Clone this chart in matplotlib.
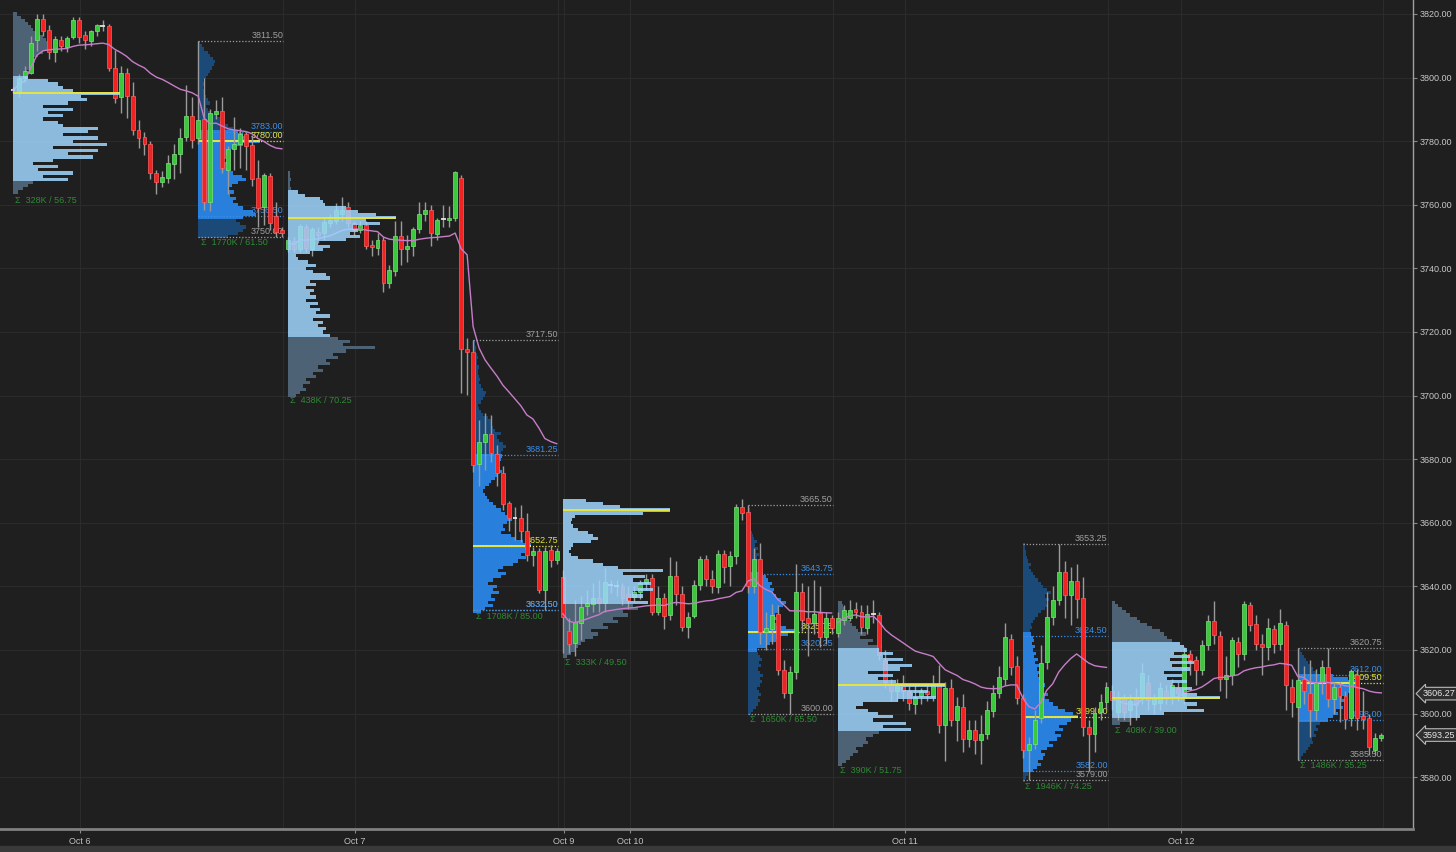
import numpy as np
import matplotlib.pyplot as plt
from matplotlib.patches import Rectangle

# 30-minute ES bars, index 0 = first bar of the Oct 6 overnight session (46 bars per day)
opens = [3796, 3795.5, 3800, 3801.5, 3811.75, 3818.5, 3815, 3808, 3811.75, 3809.75,
         3812.75, 3818, 3813.5, 3811.5, 3814.5, 3816.25, 3816.25, 3803, 3793.75, 3801.5,
         3794.25, 3783.5, 3781.25, 3779.25, 3770, 3767.25, 3768.5, 3772.75, 3776, 3781.25,
         3788, 3781, 3787, 3760.75, 3788.5, 3789.5, 3771, 3777.5, 3779.25, 3782.25,
         3778.75, 3768.5, 3759.25, 3769, 3756.5, 3752,
         3746, 3748.5, 3746, 3753, 3746, 3751.5, 3751, 3754.25, 3755, 3757.25,
         3759.25, 3754.25, 3752, 3753.5, 3747.5, 3746.5, 3749, 3735.5, 3739.25, 3750.25,
         3746, 3747, 3752.25, 3757, 3758.5, 3750.75, 3755.25, 3755.25, 3756, 3768.5,
         3714.5, 3713.75, 3678.5, 3685.5, 3688, 3681.5, 3675.5, 3666.25, 3661.5, 3661.5,
         3657.5, 3650, 3651, 3639, 3651.5, 3648.25,
         3643, 3626, 3622.25, 3628.5, 3633.75, 3634.5, 3636.5, 3634.75, 3640.75, 3640.5,
         3640, 3637.5, 3636.75, 3638.25, 3641, 3642.5, 3632, 3636.5, 3631, 3643.25,
         3637.5, 3627.25, 3630.75, 3640.5, 3648.5, 3642.25, 3639.75, 3650.25, 3646.25, 3649.5,
         3665, 3663.25, 3640, 3648.75, 3625.5, 3626.75, 3631.25, 3613.75, 3606.5, 3613,
         3638.25, 3630, 3628.5, 3631.5, 3624, 3630,
         3625.25, 3629.5, 3630, 3632.75, 3632, 3627, 3631.25, 3631, 3617, 3609,
         3607, 3609, 3607, 3603, 3605.5, 3607, 3605.5, 3609, 3596.5, 3608,
         3598, 3602, 3592, 3594.75, 3591.75, 3593.5, 3600.75, 3606.5, 3610.75, 3623.5,
         3615, 3604.75, 3588.5, 3590.5, 3598.5, 3616.25, 3630.5, 3635.75, 3644.5, 3637.25,
         3641.75, 3636.25, 3595.75, 3593.5, 3600.5, 3603.5,
         3607, 3600.5, 3604.75, 3601, 3605.25, 3605.25, 3609.5, 3603, 3603.25, 3607,
         3605.25, 3608, 3605.25, 3618.75, 3616.75, 3613.75, 3621.5, 3629, 3624.5, 3611,
         3612, 3622.5, 3618.75, 3634.25, 3628.25, 3622, 3621, 3626.5, 3622, 3628,
         3608.5, 3602, 3610.75, 3606.5, 3601.25, 3610, 3614.75, 3604.5, 3608.25, 3605.5,
         3598.5, 3612, 3599.25, 3598.5, 3588.5, 3592.25]
highs = [3797, 3801, 3803.5, 3813, 3820, 3820, 3816.5, 3813, 3813, 3813,
         3819, 3819, 3814.5, 3815, 3817, 3818, 3817, 3808.75, 3803.5, 3803,
         3798.75, 3786.75, 3783, 3780, 3771, 3770.5, 3775.5, 3779, 3784, 3797.75,
         3794, 3811.5, 3800, 3790, 3793, 3794, 3778.5, 3787.75, 3784, 3783,
         3782, 3774, 3770, 3770, 3761, 3753,
         3750, 3750, 3754, 3754, 3753, 3753, 3756, 3757, 3760.5, 3762.5,
         3761, 3755, 3755, 3755, 3749, 3751, 3750, 3741, 3754.75, 3755,
         3750.5, 3753, 3760.75, 3761, 3760, 3756, 3760, 3759.5, 3770.5, 3769.5,
         3718, 3717.5, 3692.25, 3694.5, 3694, 3684.5, 3678, 3667, 3665, 3665.5,
         3663, 3652.5, 3652, 3652.5, 3653, 3652,
         3645, 3630, 3635.75, 3637, 3639, 3641, 3642, 3645.75, 3642, 3642,
         3641, 3640, 3640, 3642, 3644, 3644, 3640, 3638, 3649.25, 3648,
         3640, 3632, 3642, 3649.5, 3650, 3645, 3651.5, 3651.5, 3651, 3666,
         3667.5, 3665.5, 3652, 3653.5, 3632, 3634.5, 3634, 3617, 3615, 3647,
         3641, 3640, 3642, 3640, 3632, 3631,
         3632, 3634, 3635.75, 3635, 3634, 3634, 3635.75, 3632, 3620, 3611,
         3611, 3612, 3609, 3609, 3608, 3609, 3612, 3615.25, 3610, 3611,
         3605.25, 3606, 3598, 3598, 3599.5, 3604, 3609, 3615, 3628.5, 3625,
         3618, 3606, 3592.5, 3601, 3621.5, 3638.25, 3640, 3653.25, 3648, 3646,
         3647, 3643, 3598, 3602, 3606, 3610,
         3609, 3607, 3606, 3606, 3608, 3615.75, 3612, 3606, 3610, 3609,
         3611, 3610, 3621, 3620, 3618, 3623, 3631, 3635.5, 3626, 3618,
         3624, 3624, 3635.5, 3635, 3631, 3625, 3630, 3628, 3633, 3629,
         3611, 3620.75, 3615, 3616.75, 3614, 3617, 3620.5, 3610, 3610, 3607,
         3614, 3614, 3607, 3600, 3594, 3594]
lows = [3795, 3794, 3798.5, 3801, 3808.5, 3813, 3806, 3805, 3808.5, 3808,
        3812, 3811, 3809, 3810, 3813, 3814.5, 3802, 3792, 3789, 3787.25,
        3782, 3777.75, 3775.75, 3768, 3763.25, 3765.5, 3767, 3768, 3770, 3780,
        3778, 3779, 3758.5, 3758, 3787, 3770, 3763.5, 3771, 3771.5, 3771,
        3766, 3753, 3753.5, 3752, 3750, 3750,
        3745, 3745, 3745, 3745, 3744, 3748, 3749, 3753, 3754, 3755,
        3753, 3750.5, 3751, 3746, 3744, 3744.25, 3732.5, 3733.75, 3737.5, 3741,
        3742, 3744, 3751, 3755, 3747, 3749, 3753, 3753, 3755, 3700.75,
        3700.25, 3676, 3671.5, 3676.5, 3679, 3671.5, 3664, 3657.5, 3654.5, 3654,
        3648, 3646.25, 3638, 3632.5, 3646, 3647,
        3619, 3619, 3618, 3623, 3631, 3632, 3632, 3632, 3638, 3637,
        3634, 3633, 3635, 3636, 3639, 3631, 3631, 3626.75, 3629.5, 3634,
        3626, 3623.75, 3630, 3639, 3640, 3638, 3638, 3641, 3640, 3647,
        3661, 3638, 3638, 3622, 3620, 3622, 3612, 3605, 3600, 3611,
        3626, 3618, 3625, 3621, 3622, 3625,
        3624, 3628, 3629, 3630, 3625, 3625, 3628.5, 3617, 3608, 3604,
        3604, 3604, 3601, 3600, 3603, 3604, 3604, 3593.75, 3585, 3596,
        3591.25, 3588, 3589.5, 3587.25, 3584, 3592, 3599, 3605, 3609, 3612,
        3603, 3586, 3579, 3589, 3597, 3614, 3628, 3634, 3630, 3628,
        3630, 3593, 3582, 3588, 3598, 3601,
        3601, 3598, 3598, 3596.5, 3598, 3603, 3601, 3600, 3601, 3603,
        3603, 3604, 3603, 3612, 3609, 3612, 3620, 3622, 3607, 3604.75,
        3609, 3614.75, 3617, 3626, 3620, 3612, 3617, 3619, 3620, 3601,
        3599, 3585.5, 3603, 3592.75, 3598, 3606, 3602, 3600, 3597.5, 3595,
        3596, 3594.75, 3595, 3587, 3587, 3591.5]
closes = [3796, 3800, 3802, 3811, 3818.5, 3814.5, 3808, 3812, 3810, 3812.5,
          3818, 3812.75, 3811.75, 3814.5, 3816.5, 3816.25, 3803, 3793.5, 3801.5, 3794.25,
          3783.5, 3781, 3779.25, 3770, 3767.25, 3768.75, 3773, 3776, 3781, 3788,
          3780.5, 3786.75, 3760.75, 3788.75, 3789.5, 3771.5, 3777.5, 3779.25, 3782.25, 3778.5,
          3768.25, 3759, 3769.5, 3754.25, 3751.5, 3751,
          3749, 3746.25, 3753.25, 3746.5, 3752.25, 3750.5, 3754.5, 3755.25, 3758.5, 3758.5,
          3754.25, 3752, 3753.5, 3747, 3746.75, 3749, 3735.5, 3739.5, 3750.25, 3746,
          3747, 3752.25, 3757.25, 3758.5, 3751.25, 3755.25, 3755.5, 3756, 3770.25, 3714.5,
          3713.75, 3678.25, 3685.5, 3688, 3682, 3675.75, 3666, 3661.5, 3661.5, 3657.5,
          3650, 3651, 3639, 3651.25, 3648.25, 3651,
          3630.25, 3622, 3628.75, 3633.5, 3634.75, 3636.5, 3634.75, 3641.25, 3640.5, 3640.25,
          3636.5, 3635.75, 3638.25, 3641, 3642.25, 3632, 3636.5, 3630.75, 3643.25, 3637.75,
          3627.25, 3630.5, 3640.5, 3648.5, 3642.25, 3640.25, 3650.25, 3646, 3649.5, 3665,
          3663, 3640, 3648.75, 3625.5, 3627, 3631, 3613.75, 3606.5, 3613, 3638.25,
          3629.5, 3628.5, 3631.25, 3624, 3630, 3627,
          3630, 3632.5, 3632.5, 3632, 3627.25, 3631.25, 3631.25, 3618.5, 3610, 3607,
          3609, 3607, 3603.25, 3605.25, 3607, 3606, 3609, 3596.5, 3608, 3598,
          3602.5, 3592, 3594.75, 3591.75, 3593.5, 3601, 3606.5, 3611.5, 3624, 3614.75,
          3604.75, 3588.5, 3590.5, 3598, 3616, 3630.5, 3635.75, 3644.5, 3637.25, 3641.75,
          3636, 3595.75, 3593.5, 3600.25, 3603.5, 3608.5,
          3604.25, 3604.75, 3600.5, 3604, 3602.75, 3612.75, 3604.25, 3605, 3608, 3605,
          3609, 3606.5, 3618.75, 3616.75, 3613.75, 3621.5, 3629.25, 3624.75, 3611, 3612,
          3623, 3618.75, 3634.5, 3628, 3622, 3621, 3627, 3622, 3628.5, 3609,
          3603.75, 3610.5, 3607, 3601, 3610, 3614.75, 3604.5, 3608.25, 3605.5, 3598.25,
          3613.25, 3598.5, 3598.25, 3589.5, 3592.25, 3593.25]

day_len = 46
date_labels = ['Oct 6', 'Oct 7', 'Oct 9', 'Oct 10', 'Oct 11', 'Oct 12']
date_ticks = [11.2, 57.2, 92.2, 103.3, 149.3, 195.5]
vwap_last = 3606.27

# volume profiles (ETH = overnight, RTH = day session), volume per 1-pt level from prof_base up
p1 = [5, 10, 15, 20, 55, 30, 60, 25, 45, 20, 40, 80, 55, 85, 40, 94, 60, 85, 50, 75, 85, 50, 45, 30,
      50, 35, 60, 30, 55, 74, 68, 107, 60, 50, 45, 35, 15, 12, 14, 18, 20, 22, 20, 25, 30, 35, 38,
      35, 33, 30, 25, 20, 18, 15, 12, 8, 4]
p2 = [30, 40, 45, 48, 42, 38, 45, 58, 55, 45, 40, 35, 38, 32, 36, 30, 34, 40, 48, 44, 35, 30, 28,
      30, 25, 28, 32, 30, 35, 45, 62, 50, 45, 40, 35, 30, 25, 22, 18, 12, 10, 8, 12, 10, 8, 6, 6, 5,
      6, 5, 8, 10, 12, 14, 16, 17, 15, 12, 10, 6, 4, 2]
p3 = [8, 12, 18, 15, 22, 18, 28, 25, 35, 30, 42, 38, 50, 45, 58, 87, 55, 62, 50, 42, 35, 38, 30, 35,
      25, 42, 28, 32, 22, 30, 18, 28, 22, 26, 18, 28, 22, 42, 38, 25, 18, 28, 20, 10, 8, 22, 35, 42,
      30, 58, 72, 62, 70, 65, 92, 78, 108, 88, 70, 58, 37, 35, 32, 17, 10, 3, 2, 2, 3, 2, 2]
p4 = [8, 12, 20, 15, 22, 18, 26, 20, 24, 15, 20, 28, 33, 25, 30, 40, 45, 53, 48, 52, 56, 58, 50, 42,
      38, 28, 32, 30, 34, 39, 36, 32, 28, 23, 20, 16, 14, 12, 10, 12, 16, 18, 22, 25, 29, 27, 24, 26,
      28, 29, 28, 30, 33, 30, 26, 24, 28, 22, 20, 18, 19, 15, 10, 8, 6, 5, 8, 10, 12, 13, 10, 8, 6,
      7, 6, 5, 5, 6, 4, 4, 5, 4, 3, 3, 2, 2]
p5 = [4, 8, 12, 15, 18, 22, 30, 35, 28, 45, 40, 55, 50, 65, 60, 75, 70, 85, 65, 80, 70, 90, 75, 88,
      70, 82, 60, 100, 55, 40, 30, 15, 8, 6, 8, 10, 28, 35, 30, 25, 15, 10, 8, 9, 12, 80, 107, 57,
      40, 23]
p6 = [3, 5, 8, 10, 12, 10, 13, 11, 9, 12, 14, 12, 15, 12, 10, 13, 11, 14, 12, 10, 9, 18, 22, 28, 30,
      40, 48, 38, 28, 25, 30, 27, 31, 30, 35, 38, 33, 28, 25, 26, 22, 24, 20, 18, 15, 12, 14, 10, 12,
      9, 11, 8, 10, 7, 9, 6, 5, 4, 3, 3, 2, 2, 2, 3, 2, 1]
p7 = [4, 8, 12, 15, 20, 18, 25, 30, 28, 35, 41, 73, 45, 68, 35, 55, 40, 30, 18, 25, 60, 98, 75, 90,
      65, 107, 58, 40, 55, 30, 62, 74, 50, 65, 45, 55, 41, 44, 30, 35, 22, 28, 20, 18, 14, 12, 10,
      12, 8, 6, 5, 4]
p8 = [2, 3, 5, 10, 14, 18, 15, 20, 22, 18, 24, 30, 26, 34, 38, 32, 40, 36, 44, 48, 55, 50, 42, 35,
      30, 26, 22, 25, 20, 18, 22, 16, 19, 15, 18, 14, 16, 12, 15, 11, 13, 10, 12, 9, 11, 10, 8, 7, 9,
      8, 10, 12, 15, 18, 22, 25, 23, 26, 22, 28, 24, 20, 18, 15, 12, 10, 8, 6, 8, 5, 4, 3, 3, 2, 2]
p9 = [8, 18, 28, 52, 92, 75, 85, 72, 108, 85, 72, 80, 60, 75, 55, 70, 52, 78, 60, 82, 58, 78, 62,
      75, 72, 68, 60, 55, 52, 48, 40, 35, 28, 25, 18, 14, 10, 6, 3]
p10 = [3, 5, 8, 10, 12, 15, 14, 18, 16, 20, 18, 22, 30, 35, 40, 38, 45, 42, 48, 44, 50, 52, 55, 58,
       60, 50, 35, 18, 15, 12, 10, 8, 6, 4, 2]

prof_vols = [p1, p2, p3, p4, p5, p6, p7, p8, p9, p10]
prof_start = [0, 31, 46, 77, 92, 123, 138, 169, 184, 215]
prof_kind = ['eth', 'rth', 'eth', 'rth', 'eth', 'rth', 'eth', 'rth', 'eth', 'rth']
prof_base = [3764, 3750, 3700, 3632, 3618, 3600, 3584, 3579, 3597, 3586]
prof_high = [3820, 3811.5, 3770.5, 3717.5, 3667.5, 3665.5, 3635.75, 3653.25, 3635.5, 3620.75]
prof_low = [3763.25, 3750, 3700.25, 3632.5, 3618, 3600, 3584, 3579, 3596.5, 3585.5]
prof_poc = [3795.25, 3780, 3756, 3652.75, 3664, 3625.75, 3609, 3599, 3605, 3609.5]
prof_vah = [3800, 3783, 3764, 3681.25, 3667.5, 3643.75, 3620, 3624.5, 3621.5, 3612]
prof_val = [3768, 3756.5, 3719, 3632.5, 3635, 3620.25, 3595, 3582, 3599.5, 3598]
prof_total = [328, 1770, 438, 1708, 333, 1650, 390, 1946, 408, 1486]   # thousands of contracts

bg = '#1f1f1f'
up_col, dn_col = '#3cc83c', '#f02222'
eth_va, eth_out = '#9fd6ff', '#4e6275'
rth_va, rth_out = '#2880dc', '#1c4a78'
yellow, blue, grey, green = '#e6e640', '#3c8fe8', '#a0a0a0', '#2e8b34'
px = 1 / 5.975   # one pixel in bar units

plt.rcParams['font.family'] = ['Liberation Sans', 'DejaVu Sans']

fig = plt.figure(figsize=(14.56, 8.52), dpi=100, facecolor=bg)
fig.patches.append(Rectangle((0, 0), 1, 6 / 852, transform=fig.transFigure,
                             color='#3a3a3a', zorder=0))
ax = fig.add_axes([0, 23 / 852, 1413 / 1456, 829 / 852], facecolor=bg)

o = np.array(opens); h = np.array(highs); l = np.array(lows); c = np.array(closes)
n = len(o)
x = np.arange(n)

# grid
for yv in np.arange(3580, 3821, 20):
    ax.axhline(yv, color='#2b2b2b', lw=0.8, zorder=0)
for xv in date_ticks + [day_len * k - 0.8 for k in range(1, 6)]:
    ax.axvline(xv, color='#2b2b2b', lw=0.8, zorder=0)

# volume profiles
for k in range(len(prof_vols)):
    vols = np.array(prof_vols[k], float)
    levels = prof_base[k] + np.arange(len(vols))
    wid = vols * px
    x0 = prof_start[k]
    in_va = (levels >= prof_val[k] - 0.5) & (levels <= prof_vah[k] + 0.5)
    if prof_kind[k] == 'eth':
        ax.barh(levels[~in_va], wid[~in_va], left=x0, height=1.0, color=eth_out,
                edgecolor='none', zorder=1)
        ax.barh(levels[in_va], wid[in_va], left=x0, height=1.0, color=eth_va,
                edgecolor='none', alpha=0.85, zorder=5)
        ax.hlines(prof_poc[k], x0, x0 + wid.max(), color=yellow, lw=1.4, zorder=6)
    else:
        ax.barh(levels[~in_va], wid[~in_va], left=x0, height=1.0, color=rth_out,
                edgecolor='none', zorder=1)
        ax.barh(levels[in_va], wid[in_va], left=x0, height=1.0, color=rth_va,
                edgecolor='none', zorder=1)
        x_end = x0 + 14.2
        ax.hlines(prof_poc[k], x0, x0 + wid.max(), color=yellow, lw=1.4, zorder=2)
        for val, col in [(prof_high[k], grey), (prof_low[k], grey), (prof_vah[k], blue),
                         (prof_val[k], blue), (prof_poc[k], yellow)]:
            ax.hlines(val, x0, x_end, color=col, lw=0.9, linestyles=(0, (1, 1.5)), zorder=2)
            ax.text(x_end, val + 0.3, f'{val:.2f}', color=col, fontsize=6.5,
                    ha='right', va='bottom', zorder=2)
    rng = prof_high[k] - prof_low[k]
    ax.text(x0 + 0.4, prof_low[k] - 0.5, f'Σ  {prof_total[k]}K / {rng:.2f}', color=green,
            fontsize=6.5, ha='left', va='top', zorder=2)

# candles
wick_col = '#9a9a9a'
ax.vlines(x, l, h, color=wick_col, lw=1.0, zorder=3)
body_lo = np.minimum(o, c)
body_h = np.abs(c - o)
up = c > o
dn = c < o
doji = body_h < 0.3
ax.bar(x[up & ~doji], body_h[up & ~doji], bottom=body_lo[up & ~doji], width=0.66,
       color=up_col, edgecolor='#7ae67a', lw=0.5, zorder=3.5)
ax.bar(x[dn & ~doji], body_h[dn & ~doji], bottom=body_lo[dn & ~doji], width=0.66,
       color=dn_col, edgecolor='#ff6060', lw=0.5, zorder=3.5)
ax.hlines(c[doji], x[doji] - 0.4, x[doji] + 0.4, color='#f0f0f0', lw=1.2, zorder=3.5)

# session vwap: each session's total volume spread over its bars in proportion to bar range
tp = (h + l + c) / 3
rng_bar = (h - l) + 0.25
vol_bar = np.zeros(n)
bounds = prof_start + [n]
for k in range(len(prof_start)):
    s = slice(bounds[k], bounds[k + 1])
    vol_bar[s] = prof_total[k] * rng_bar[s] / rng_bar[s].sum()
for d in range(0, n, day_len):
    s = slice(d, min(d + day_len, n))
    vw = np.cumsum(tp[s] * vol_bar[s]) / np.cumsum(vol_bar[s])
    ax.plot(x[s], vw, color='#c77dc8', lw=1.0, zorder=4)

ax.set_xlim(-2.18, 234.3)
ax.set_ylim(3563.7, 3824.4)

ax.yaxis.tick_right()
ax.set_yticks(np.arange(3580, 3821, 20))
ax.set_yticklabels([f'{v:.2f}' for v in np.arange(3580, 3821, 20)])
ax.set_xticks(date_ticks)
ax.set_xticklabels(date_labels)
ax.tick_params(axis='y', colors='#8a8a8a', labelcolor='#c8c8c8', labelsize=6.5,
               length=3, pad=2)
ax.tick_params(axis='x', colors='#8a8a8a', labelcolor='#c0c0c0', labelsize=6.5,
               length=3, pad=3)
for side in ['top', 'left']:
    ax.spines[side].set_visible(False)
ax.spines['right'].set_color('#a0a0a0')
ax.spines['right'].set_linewidth(1.0)
ax.spines['bottom'].set_color('#808080')
ax.spines['bottom'].set_linewidth(2.0)

# last value tags
tr = ax.get_yaxis_transform()
for val in [vwap_last, closes[-1]]:
    ax.text(1.007, val, f'{val:.2f}', transform=tr, ha='left', va='center', fontsize=6.5,
            color='#e8e8e8', clip_on=False, zorder=10,
            bbox=dict(boxstyle='larrow,pad=0.2', fc='#2e2e2e', ec='#b8b8b8', lw=0.8))

fig.savefig('out.png', dpi=100, facecolor=bg)
